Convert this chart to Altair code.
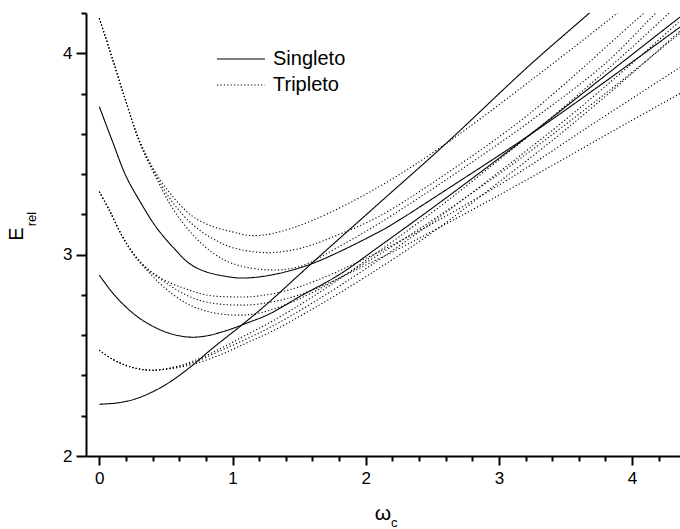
import altair as alt
import pandas as pd

# ---- data (omega_c, E_rel) ----
s1_x = [0, 0.15, 0.3, 0.5, 0.68, 0.85, 1.05, 1.25, 1.6, 2.1, 2.6, 3.23, 3.68, 3.8]
s1_y = [2.257, 2.265, 2.29, 2.355, 2.44, 2.535, 2.64, 2.75, 2.96, 3.255, 3.55, 3.94, 4.2, 4.27]

s2_x = [0, 0.1, 0.2, 0.3, 0.4, 0.5, 0.6, 0.7, 0.8, 0.9, 1.0, 1.1, 1.276, 1.5, 1.8, 2.1, 2.6, 3.23, 3.8, 4.36]
s2_y = [2.898, 2.81, 2.74, 2.685, 2.645, 2.615, 2.597, 2.59, 2.596, 2.612, 2.633, 2.658, 2.705, 2.79, 2.90, 3.04, 3.28, 3.594, 3.89, 4.18]

s3_x = [0, 0.1, 0.2, 0.3, 0.425, 0.55, 0.676, 0.8, 1.0, 1.1, 1.3, 1.6, 2.1, 2.23, 2.6, 3.23, 3.8, 4.36]
s3_y = [3.735, 3.56, 3.39, 3.27, 3.138, 3.039, 2.956, 2.915, 2.887, 2.884, 2.90, 2.956, 3.113, 3.163, 3.32, 3.594, 3.86, 4.13]

t5a_x = [0, 0.1, 0.2, 0.3, 0.42, 0.55, 0.7, 0.85, 1.0, 1.13, 1.3, 1.6, 2.1, 2.6, 3.23, 3.89, 4.0]
t5a_y = [4.174, 3.97, 3.76, 3.57, 3.41, 3.29, 3.19, 3.14, 3.113, 3.095, 3.105, 3.17, 3.337, 3.55, 3.86, 4.2, 4.26]

t5b_x = [0, 0.1, 0.2, 0.3, 0.42, 0.55, 0.7, 0.85, 1.0, 1.25, 1.5, 1.8, 2.1, 2.6, 3.23, 4.09, 4.2]
t5b_y = [4.174, 3.97, 3.76, 3.565, 3.40, 3.26, 3.15, 3.08, 3.035, 3.01, 3.03, 3.10, 3.19, 3.40, 3.70, 4.2, 4.26]

t5c_x = [0, 0.1, 0.2, 0.3, 0.42, 0.55, 0.7, 0.85, 1.0, 1.25, 1.5, 1.8, 2.1, 2.6, 3.23, 3.8, 4.18, 4.3]
t5c_y = [4.174, 3.97, 3.76, 3.56, 3.39, 3.23, 3.10, 3.01, 2.956, 2.925, 2.94, 3.04, 3.155, 3.37, 3.66, 3.95, 4.2, 4.27]

t3a_x = [0, 0.075, 0.175, 0.275, 0.375, 0.5, 0.65, 0.8, 1.0, 1.2, 1.5, 2.1, 3.0, 3.73, 4.36]
t3a_y = [3.312, 3.221, 3.088, 2.989, 2.923, 2.87, 2.83, 2.80, 2.79, 2.795, 2.84, 3.014, 3.345, 3.66, 3.93]

t3b_x = [0, 0.075, 0.175, 0.275, 0.375, 0.5, 0.65, 0.8, 1.0, 1.2, 1.5, 2.1, 3.0, 3.98, 4.36]
t3b_y = [3.312, 3.221, 3.088, 2.989, 2.92, 2.86, 2.80, 2.765, 2.75, 2.755, 2.80, 2.98, 3.295, 3.66, 3.80]

t3c_x = [0, 0.075, 0.175, 0.275, 0.375, 0.5, 0.65, 0.8, 1.0, 1.2, 1.5, 2.1, 3.0, 3.8, 4.36]
t3c_y = [3.312, 3.221, 3.088, 2.985, 2.91, 2.83, 2.76, 2.72, 2.70, 2.71, 2.78, 3.0, 3.40, 3.80, 4.10]

t1a_x = [0, 0.1, 0.2, 0.3, 0.4, 0.55, 0.7, 0.9, 1.1, 1.3, 1.6, 2.0, 2.5, 3.0, 3.5, 4.0, 4.36]
t1a_y = [2.525, 2.48, 2.45, 2.432, 2.426, 2.44, 2.47, 2.53, 2.60, 2.67, 2.79, 2.97, 3.21, 3.47, 3.74, 4.03, 4.25]

t1b_x = [0, 0.1, 0.2, 0.3, 0.4, 0.55, 0.7, 0.9, 1.1, 1.3, 1.6, 2.0, 2.5, 3.0, 3.5, 4.0, 4.36]
t1b_y = [2.525, 2.48, 2.45, 2.432, 2.426, 2.437, 2.463, 2.52, 2.58, 2.645, 2.76, 2.93, 3.16, 3.41, 3.67, 3.95, 4.16]

t1c_x = [0, 0.1, 0.2, 0.3, 0.4, 0.55, 0.7, 0.9, 1.1, 1.3, 1.6, 2.0, 2.5, 3.0, 3.5, 4.0, 4.36]
t1c_y = [2.525, 2.48, 2.45, 2.432, 2.426, 2.435, 2.455, 2.50, 2.56, 2.62, 2.73, 2.89, 3.11, 3.36, 3.62, 3.90, 4.11]

series_names = ["Singleto", "Tripleto"]
x_major = [0, 1, 2, 3, 4]
x_minor = [0.2, 0.4, 0.6, 0.8, 1.2, 1.4, 1.6, 1.8, 2.2, 2.4, 2.6, 2.8, 3.2, 3.4, 3.6, 3.8, 4.2]
y_major = [2, 3, 4]
y_minor = [2.2, 2.4, 2.6, 2.8, 3.2, 3.4, 3.6, 3.8, 4.2]

curves = [
    ("S1", "Singleto", s1_x, s1_y),
    ("S2", "Singleto", s2_x, s2_y),
    ("S3", "Singleto", s3_x, s3_y),
    ("T5a", "Tripleto", t5a_x, t5a_y),
    ("T5b", "Tripleto", t5b_x, t5b_y),
    ("T5c", "Tripleto", t5c_x, t5c_y),
    ("T3a", "Tripleto", t3a_x, t3a_y),
    ("T3b", "Tripleto", t3b_x, t3b_y),
    ("T3c", "Tripleto", t3c_x, t3c_y),
    ("T1a", "Tripleto", t1a_x, t1a_y),
    ("T1b", "Tripleto", t1b_x, t1b_y),
    ("T1c", "Tripleto", t1c_x, t1c_y),
]
rows = []
for name, kind, xs, ys in curves:
    for i, (xv, yv) in enumerate(zip(xs, ys)):
        rows.append({"curve": name, "tipo": kind, "w": xv, "E": yv, "order": i})
df = pd.DataFrame(rows)

FONT = "Liberation Sans"
W, H = 594, 443
ox, oy = 86, 13
DOT = [1.2, 2.2]

xscale = alt.Scale(domain=[-0.1, 4.36], nice=False, zero=False)
yscale = alt.Scale(domain=[2, 4.2], nice=False, zero=False)

lines = alt.Chart(df).mark_line(
    clip=True, strokeWidth=1.1, color="black", interpolate="catmull-rom"
).encode(
    x=alt.X("w:Q", scale=xscale, axis=alt.Axis(
        values=x_major, title=None, orient="bottom", grid=False,
        tickSize=9, tickWidth=2, domainWidth=2, domainColor="black", tickColor="black",
        labelFont=FONT, labelFontSize=17, labelColor="black", labelPadding=5,
        labelFlush=False, format="d")),
    y=alt.Y("E:Q", scale=yscale, axis=alt.Axis(
        values=y_major, title=None, orient="left", grid=False,
        tickSize=10, tickWidth=2, domainWidth=2, domainColor="black", tickColor="black",
        labelFont=FONT, labelFontSize=17, labelColor="black", labelPadding=4,
        labelFlush=False, format="d")),
    detail="curve:N",
    order="order:Q",
    strokeDash=alt.StrokeDash("tipo:N", scale=alt.Scale(domain=series_names, range=[[1, 0], DOT]),
                              legend=None),
)

minor_x = alt.Chart(pd.DataFrame({"w": x_minor})).mark_point(opacity=0).encode(
    x=alt.X("w:Q", scale=xscale, axis=alt.Axis(
        values=x_minor, title=None, orient="bottom", labels=False, domain=False, grid=False,
        tickSize=5, tickWidth=2, tickColor="black")),
)
minor_y = alt.Chart(pd.DataFrame({"E": y_minor})).mark_point(opacity=0).encode(
    y=alt.Y("E:Q", scale=yscale, axis=alt.Axis(
        values=y_minor, title=None, orient="left", labels=False, domain=False, grid=False,
        tickSize=5, tickWidth=2, tickColor="black")),
)

def label(txt, x, y, size, angle=0, align="center", baseline="alphabetic"):
    return alt.Chart(pd.DataFrame({"t": [txt]})).mark_text(
        font=FONT, fontSize=size, color="black", angle=angle, align=align, baseline=baseline
    ).encode(x=alt.value(x), y=alt.value(y), text="t:N")

def legend_line(y, dash):
    return alt.Chart(pd.DataFrame({"a": [0]})).mark_rule(
        color="black", strokeWidth=1.1, strokeDash=dash
    ).encode(x=alt.value(217 - ox), x2=alt.value(265 - ox), y=alt.value(y - oy))

decor = [
    label("ω", 383 - ox, 520 - oy, 21, align="center"),
    label("c", 391 - ox, 527 - oy, 13, align="left"),
    label("E", 23 - ox, 234 - oy, 20, angle=270, align="center"),
    label("rel", 36 - ox, 219 - oy, 13, angle=270, align="center"),
    legend_line(59, [1, 0]),
    legend_line(85, DOT),
    label(series_names[0], 273 - ox, 59 - oy, 20, align="left", baseline="middle"),
    label(series_names[1], 273 - ox, 85 - oy, 20, align="left", baseline="middle"),
]

chart = alt.layer(lines, minor_x, minor_y, *decor).resolve_axis(x="independent", y="independent").properties(
    width=W, height=H,
    autosize=alt.AutoSizeParams(type="none"),
    padding={"left": ox, "top": oy, "right": 0, "bottom": 529 - oy - H},
    background="white",
).configure_view(stroke=None)

chart.save("out.html", embed_options={"renderer": "svg", "actions": False})
